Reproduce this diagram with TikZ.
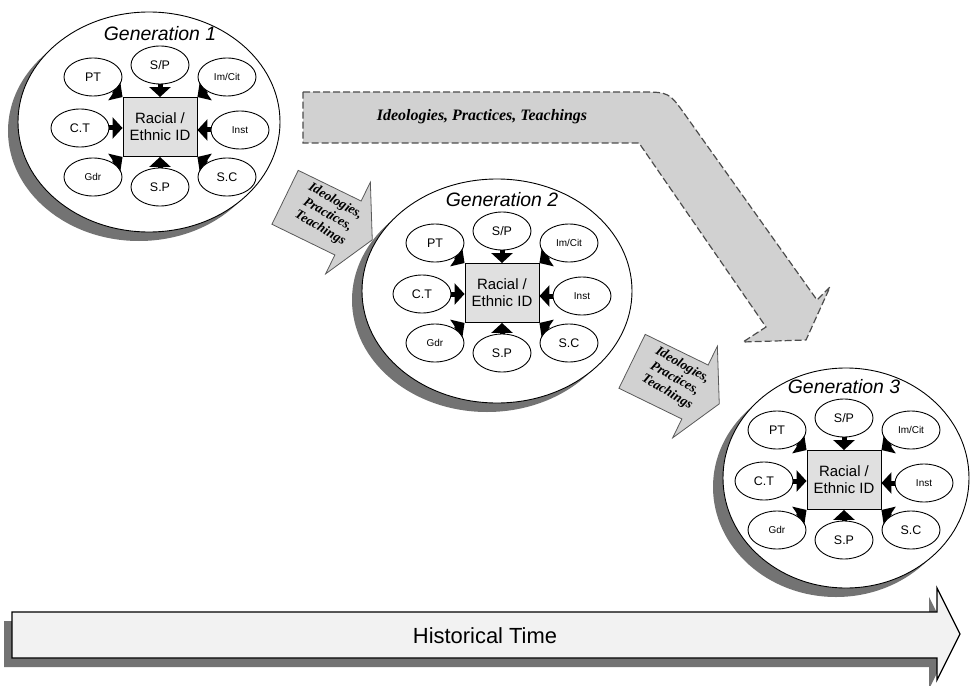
\documentclass[tikz,border=0pt]{standalone}
\usepackage{fontspec}
\setmainfont{Liberation Serif}
\setsansfont{Liberation Sans}
\usetikzlibrary{calc,arrows.meta,shapes.geometric}
\tikzset{
  factor/.style={draw, fill=white, ellipse, minimum width=58bp, minimum height=38bp, inner sep=0pt, line width=0.9bp, font=\sffamily\fontsize{12.5}{12.5}\selectfont},
  smallfactor/.style={factor, font=\sffamily\fontsize{10}{10}\selectfont},
  idbox/.style={draw, fill=black!12, minimum width=74bp, minimum height=59bp, inner sep=0pt, line width=0.9bp, align=center, font=\sffamily\fontsize{15}{17}\selectfont},
  gentitle/.style={font=\sffamily\itshape\fontsize{19.5}{20}\selectfont},
  push/.style={line width=5bp, -{Triangle[width=21bp,length=10bp]}},
  flow/.style={draw=black!65, fill=black!18, line width=0.8bp},
  flowlabel/.style={font=\rmfamily\bfseries\itshape\fontsize{13.5}{15.5}\selectfont, align=center, rotate=-30},
  band/.style={draw=black!70, fill=black!18, line width=1.2bp, dash pattern=on 7bp off 3bp},
  bandlabel/.style={font=\rmfamily\bfseries\itshape\fontsize{16}{16}\selectfont},
  timearrow/.style={draw, fill=black!5, line width=1.2bp},
  timelabel/.style={font=\sffamily\fontsize{22}{22}\selectfont}
}
\def\generation#1(#2)(#3)#4#5{
  \fill[black!55] ($(#2)+(-10,9)$) ellipse (#4bp and #5bp);
  \draw[fill=white, line width=0.9bp] (#2) ellipse (#4bp and #5bp);
  \node[idbox] (g#1box) at (#3) {Racial /\\Ethnic ID};
  \node[gentitle] (g#1title) at ($(#3)+(0,-93)$) {Generation #1};
  \node[factor] (g#1pt) at ($(#3)+(-67,-50)$) {PT};
  \node[factor] (g#1sp) at ($(#3)+(0,-62)$) {S/P};
  \node[smallfactor] (g#1imcit) at ($(#3)+(67,-50)$) {Im/Cit};
  \node[factor] (g#1ct) at ($(#3)+(-80,1)$) {C.T};
  \node[smallfactor] (g#1inst) at ($(#3)+(80,3)$) {Inst};
  \node[smallfactor] (g#1gdr) at ($(#3)+(-67,50)$) {Gdr};
  \node[factor] (g#1spb) at ($(#3)+(0,60)$) {S.P};
  \node[factor] (g#1sc) at ($(#3)+(67,50)$) {S.C};
  \draw[push] (g#1pt) -- (g#1box.north west);
  \draw[push] (g#1sp) -- (g#1box.north);
  \draw[push] (g#1imcit) -- (g#1box.north east);
  \draw[push] (g#1ct) -- (g#1ct -| g#1box.west);
  \draw[push] (g#1inst) -- (g#1inst -| g#1box.east);
  \draw[push] (g#1gdr) -- (g#1box.south west);
  \draw[push] (g#1spb) -- (g#1box.south);
  \draw[push] (g#1sc) -- (g#1box.south east);
}
\def\flowarrow#1(#2){
  \begin{scope}[shift={(#2)}, rotate=-26]
    \draw[flow] (-70,-30) -- (0,-30) -- (0,-51) -- (27,0) -- (0,51) -- (0,30) -- (-70,30) -- cycle;
    \node[flowlabel] (#1) at (-24,-3) {Ideologies,\\Practices,\\Teachings};
  \end{scope}
}

\begin{document}
\begin{tikzpicture}[x=1bp, y=-1bp]
  \useasboundingbox (0,0) rectangle (971,686);

  \draw[band] (303,92) -- (640,92) .. controls (669,92) .. (686,116) -- (817,300) -- (830,287) -- (806,340) -- (743,342) -- (766,327) -- (639,143) -- (303,143) -- cycle;
  \node[bandlabel] (bandtext) at (482,117) {Ideologies, Practices, Teachings};

  \flowarrow{flowa}(348,228)
  \flowarrow{flowb}(695,392)

  \generation1(149,122)(160,127){131}{110}
  \generation2(497,291)(502,293){135}{112}
  \generation3(846,478)(844,480){123}{110}

  \fill[black!55] (4,621) -- (929,621) -- (929,597) -- (952,643) -- (929,689) -- (929,667) -- (4,667) -- cycle;
  \draw[timearrow] (12,612) -- (937,612) -- (937,588) -- (960,634) -- (937,680) -- (937,658) -- (12,658) -- cycle;
  \node[timelabel] (time) at (485,636) {Historical Time};
\end{tikzpicture}
\end{document}
